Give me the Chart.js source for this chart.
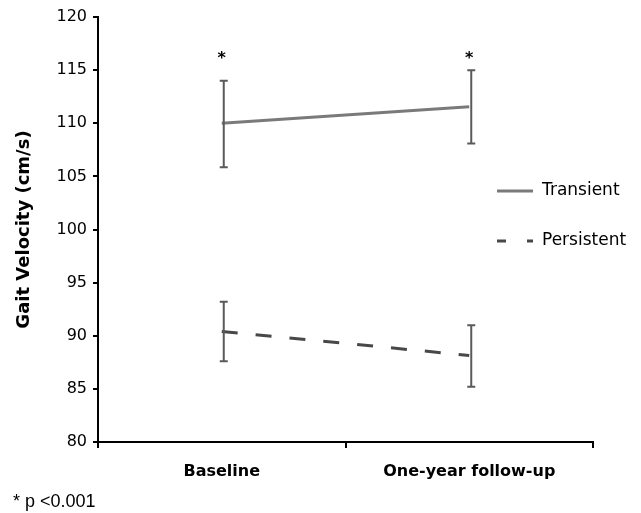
<!DOCTYPE html>
<html>
<head>
<meta charset="utf-8">
<script src="https://cdn.jsdelivr.net/npm/chart.js@4.4.1/dist/chart.umd.min.js"></script>
<style>
  html, body { margin: 0; padding: 0; background: #fff; }
  #wrap { width: 641px; height: 513px; }
</style>
</head>
<body>
<div id="wrap"><canvas id="myChart" width="641" height="513"></canvas></div>
<script>
// values
const categories = ['Baseline', 'One-year follow-up'];
const transientMean = [110.0, 111.55];
const transientLow = [105.85, 108.1];
const transientHigh = [114.0, 115.0];
const persistentMean = [90.4, 88.15];
const persistentLow = [87.6, 85.2];
const persistentHigh = [93.2, 91.0];
const significance = ['*', '*'];
const starLevel = 116.3;
const yTicks = [80, 85, 90, 95, 100, 105, 110, 115, 120];

const transientGrey = 'rgb(122, 122, 122)';
const persistentGrey = 'rgb(72, 72, 72)';
const barGrey = 'rgb(90, 90, 90)';

// error bars + asterisks
const errorBarPlugin = {
  id: 'errorBars',
  afterDatasetsDraw(chart) {
    const { ctx, scales: { x, y } } = chart;
    const sets = [
      [transientLow, transientHigh],
      [persistentLow, persistentHigh],
    ];
    ctx.save();
    ctx.strokeStyle = barGrey;
    ctx.lineWidth = 2;
    ctx.setLineDash([]);
    sets.forEach(([lo, hi]) => {
      lo.forEach((v, i) => {
        const xPos = x.getPixelForValue(i) + 2;
        const yLo = y.getPixelForValue(v);
        const yHi = y.getPixelForValue(hi[i]);
        ctx.beginPath();
        ctx.moveTo(xPos, yLo);
        ctx.lineTo(xPos, yHi);
        ctx.moveTo(xPos - 4, yLo);
        ctx.lineTo(xPos + 4, yLo);
        ctx.moveTo(xPos - 4, yHi);
        ctx.lineTo(xPos + 4, yHi);
        ctx.stroke();
      });
    });
    ctx.fillStyle = '#000';
    ctx.font = 'bold 16px "DejaVu Sans"';
    ctx.textAlign = 'center';
    ctx.textBaseline = 'middle';
    significance.forEach((s, i) => {
      ctx.fillText(s, x.getPixelForValue(i), y.getPixelForValue(starLevel) + 3);
    });
    ctx.restore();
  },
};

// legend on the right and footnote
const sideLegendPlugin = {
  id: 'sideLegend',
  afterDraw(chart) {
    const { ctx, chartArea } = chart;
    const x0 = chartArea.right - 96;
    const rows = [
      { label: 'Transient', dash: [], color: transientGrey, y: chartArea.top + 174 },
      { label: 'Persistent', dash: [9, 21], color: persistentGrey, y: chartArea.top + 224 },
    ];
    ctx.save();
    rows.forEach((r) => {
      ctx.strokeStyle = r.color;
      ctx.lineWidth = 3;
      ctx.setLineDash(r.dash);
      ctx.beginPath();
      ctx.moveTo(x0, r.y);
      ctx.lineTo(x0 + 36, r.y);
      ctx.stroke();
      ctx.setLineDash([]);
      ctx.fillStyle = '#000';
      ctx.font = '17px "DejaVu Sans"';
      ctx.textAlign = 'left';
      ctx.textBaseline = 'middle';
      ctx.fillText(r.label, x0 + 45, r.y);
    });
    ctx.font = '18px "Liberation Sans"';
    ctx.textBaseline = 'alphabetic';
    ctx.fillText('* p <0.001', 13, 507);
    ctx.restore();
  },
};

const config = {
  type: 'line',
  data: {
    labels: categories,
    datasets: [
      {
        label: 'Transient',
        data: transientMean,
        borderColor: transientGrey,
        borderWidth: 3,
        pointRadius: 0,
        fill: false,
      },
      {
        label: 'Persistent',
        data: persistentMean,
        borderColor: persistentGrey,
        borderWidth: 3,
        borderDash: [16, 18],
        pointRadius: 0,
        fill: false,
      },
    ],
  },
  options: {
    responsive: false,
    animation: false,
    layout: { padding: { left: 0, right: 48, top: 17, bottom: 0 } },
    plugins: {
      legend: { display: false },
      tooltip: { enabled: false },
    },
    scales: {
      x: {
        offset: true,
        afterFit: (s) => { s.height = 71; },
        border: { color: '#000', width: 2 },
        grid: { offset: true, drawOnChartArea: false, drawTicks: true, tickLength: 6, color: '#000', lineWidth: 2 },
        ticks: { color: '#000', padding: 14, font: { family: 'DejaVu Sans', size: 16, weight: 'bold' } },
      },
      y: {
        min: 80,
        max: 120,
        afterFit: (s) => { s.width = 98; },
        afterBuildTicks: (s) => { s.ticks = yTicks.map((v) => ({ value: v })); },
        border: { color: '#000', width: 2 },
        grid: { drawOnChartArea: false, drawTicks: true, tickLength: 5, color: '#000', lineWidth: 2 },
        ticks: { color: '#000', padding: 6, font: { family: 'DejaVu Sans', size: 16 } },
        title: {
          display: true,
          text: 'Gait Velocity (cm/s)',
          color: '#000',
          padding: { top: 14, bottom: 0 },
          font: { family: 'DejaVu Sans', size: 18, weight: 'bold' },
        },
      },
    },
  },
  plugins: [errorBarPlugin, sideLegendPlugin],
};

new Chart(document.getElementById('myChart'), config);
</script>
</body>
</html>
